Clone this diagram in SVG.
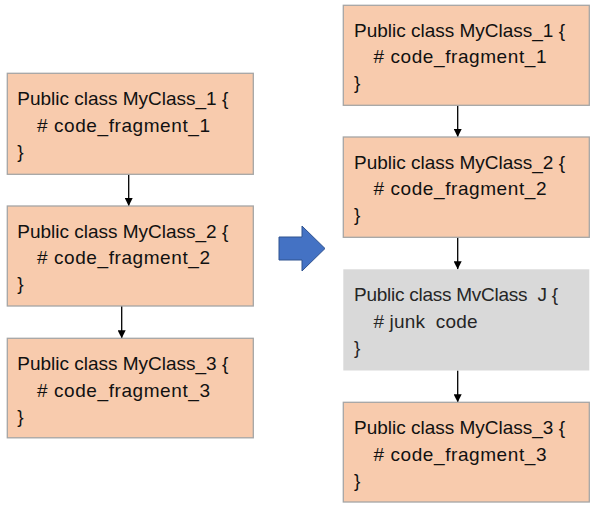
<svg xmlns="http://www.w3.org/2000/svg" width="595" height="508" viewBox="0 0 595 508">
<style>
.box{fill:#F8CBAD;stroke:#A5A5A5;stroke-width:1.3}
.junk{fill:#D9D9D9;stroke:none}
.t{font-family:"Liberation Sans",Arial,sans-serif;font-size:19px;fill:#111;white-space:pre}
.tg{font-family:"Liberation Sans",Arial,sans-serif;font-size:19px;fill:#262626;white-space:pre}
.c{stroke:#000;stroke-width:1.3;fill:none;marker-end:url(#ah)}
</style>
<defs>
<marker id="ah" viewBox="0 0 10 10" refX="10" refY="5" markerWidth="8" markerHeight="8" markerUnits="userSpaceOnUse" orient="auto">
<path d="M0,0 L10,5 L0,10 z" fill="#000"/>
</marker>
</defs>
<rect width="595" height="508" fill="#fff"/>
<g id="connectors">
<line class="c" x1="128.7" y1="174.3" x2="128.7" y2="206"/>
<line class="c" x1="121.7" y1="306" x2="121.7" y2="338.3"/>
<line class="c" x1="457.7" y1="105.3" x2="457.7" y2="137"/>
<line class="c" x1="457.7" y1="237.3" x2="457.7" y2="269.3"/>
<line class="c" x1="457.7" y1="370.5" x2="457.7" y2="402.3"/>
</g>
<g id="L1">
<rect class="box" x="7.3" y="73.3" width="246" height="101"/>
<text class="t" x="17.3" y="105" textLength="211" lengthAdjust="spacing">Public class MyClass_1 {</text>
<text class="t" x="37" y="131.5" textLength="173" lengthAdjust="spacing"># code_fragment_1</text>
<text class="t" x="17.3" y="157.5">}</text>
</g>
<g id="L2">
<rect class="box" x="7.3" y="206" width="246" height="100"/>
<text class="t" x="17.3" y="237.5" textLength="211" lengthAdjust="spacing">Public class MyClass_2 {</text>
<text class="t" x="37" y="264" textLength="173" lengthAdjust="spacing"># code_fragment_2</text>
<text class="t" x="17.3" y="290">}</text>
</g>
<g id="L3">
<rect class="box" x="7.3" y="338.3" width="246" height="99.5"/>
<text class="t" x="17.3" y="370" textLength="211" lengthAdjust="spacing">Public class MyClass_3 {</text>
<text class="t" x="37" y="396.5" textLength="173" lengthAdjust="spacing"># code_fragment_3</text>
<text class="t" x="17.3" y="422.5">}</text>
</g>
<g id="bigarrow">
<polygon points="279,237 302,237 302,226 325,248.5 302,271 302,260 279,260" fill="#4472C4" stroke="#2F528F" stroke-width="1"/>
</g>
<g id="R1">
<rect class="box" x="343.3" y="5.3" width="246" height="100"/>
<text class="t" x="354" y="36.8" textLength="211" lengthAdjust="spacing">Public class MyClass_1 {</text>
<text class="t" x="373.5" y="63.3" textLength="173" lengthAdjust="spacing"># code_fragment_1</text>
<text class="t" x="354" y="89.3">}</text>
</g>
<g id="R2">
<rect class="box" x="343.3" y="137" width="246" height="100.3"/>
<text class="t" x="354" y="168.5" textLength="211" lengthAdjust="spacing">Public class MyClass_2 {</text>
<text class="t" x="373.5" y="195" textLength="173" lengthAdjust="spacing"># code_fragment_2</text>
<text class="t" x="354" y="221">}</text>
</g>
<g id="RJ">
<rect class="junk" x="343.3" y="269.3" width="246" height="101.2"/>
<text class="tg" x="354" y="301" textLength="204" lengthAdjust="spacing">Public class MvClass  J {</text>
<text class="tg" x="373.5" y="327.5" textLength="104" lengthAdjust="spacing"># junk  code</text>
<text class="tg" x="354" y="353.5">}</text>
</g>
<g id="R4">
<rect class="box" x="343.3" y="402.3" width="246" height="99.7"/>
<text class="t" x="354" y="434" textLength="211" lengthAdjust="spacing">Public class MyClass_3 {</text>
<text class="t" x="373.5" y="460.5" textLength="173" lengthAdjust="spacing"># code_fragment_3</text>
<text class="t" x="354" y="486.5">}</text>
</g>
</svg>
